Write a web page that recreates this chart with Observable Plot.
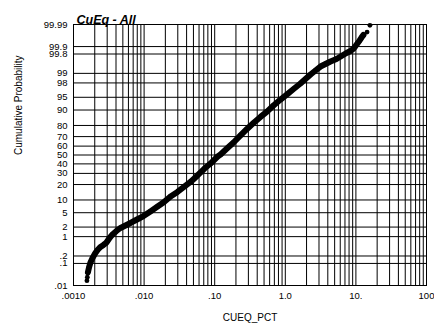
<!DOCTYPE html>
<html>
<head>
<meta charset="utf-8">
<script src="https://cdn.jsdelivr.net/npm/d3@7"></script>
<script src="https://cdn.jsdelivr.net/npm/@observablehq/plot@0.6"></script>
<style>
  html, body { margin: 0; padding: 0; background: white; }
</style>
</head>
<body>
<div id="chart"></div>
<script>
// ---- data ----
const cueqPct = [0.00155,0.00157,0.00160,0.00166,0.00174,0.00186,0.00202,0.00219,0.00241,0.00266,
  0.00293,0.00324,0.00357,0.00406,0.00463,0.00545,0.00642,0.00793,0.00981,0.0123,
  0.0155,0.0188,0.0237,0.0297,0.0367,0.0454,0.0561,0.0717,0.0872,0.110,
  0.121,0.149,0.185,0.232,0.287,0.354,0.445,0.551,0.681,0.855,
  1.06,1.31,1.64,1.93,2.28,2.68,3.15,3.71,4.37,5.31,
  6.25,7.36,8.39,9.25,9.87,10.5,11.3,12.0,12.8,14.4,15.8];
const cumProb = [0.017,0.025,0.041,0.068,0.11,0.167,0.25,0.34,0.44,0.52,
  0.63,0.90,1.18,1.52,1.88,2.23,2.64,3.3,4.1,5.4,
  7.1,8.8,11.9,14.6,18.1,22.1,27.5,35.0,40.4,48.3,
  50.6,57.3,63.9,71.1,77.1,81.9,86.1,89.2,92.1,94.3,
  95.8,97.0,97.92,98.48,98.91,99.20,99.415,99.524,99.614,99.688,
  99.760,99.817,99.848,99.879,99.905,99.926,99.945,99.959,99.969,99.977,99.989];

const xTickValues = [0.001, 0.01, 0.1, 1, 10, 100];
const xTickLabels = [".0010", ".010", ".10", "1.0", "10.", "100"];
const yTickValues = [0.01, 0.1, 0.2, 1, 2, 5, 10, 20, 30, 40, 50, 60, 70, 80, 90, 95, 98, 99, 99.8, 99.9, 99.99];
const yTickLabels = [".01", ".1", ".2", "1", "2", "5", "10", "20", "30", "40", "50", "60", "70", "80", "90", "95", "98", "99", "99.8", "99.9", "99.99"];
const minorMultipliers = [1, 2, 3, 4, 5, 6, 7, 8, 9];
const decades = [0.001, 0.01, 0.1, 1, 10];

const title = "CuEq - All";
const xLabel = "CUEQ_PCT";
const yLabel = "Cumulative Probability";

// ---- probability (normal quantile) transform ----
function probit(pct) {
  const p = pct / 100;
  const a=[-3.969683028665376e+01,2.209460984245205e+02,-2.759285104469687e+02,1.383577518672690e+02,-3.066479806614716e+01,2.506628277459239e+00];
  const b=[-5.447609879822406e+01,1.615858368580409e+02,-1.556989798598866e+02,6.680131188771972e+01,-1.328068155288572e+01];
  const c=[-7.784894002430293e-03,-3.223964580411365e-01,-2.400758277161838e+00,-2.549732539343734e+00,4.374664141464968e+00,2.938163982698783e+00];
  const d=[7.784695709041462e-03,3.224671290700398e-01,2.445134137142996e+00,3.754408661907416e+00];
  const pl = 0.02425, ph = 1 - pl;
  let q, r;
  if (p < pl) { q = Math.sqrt(-2*Math.log(p)); return (((((c[0]*q+c[1])*q+c[2])*q+c[3])*q+c[4])*q+c[5])/((((d[0]*q+d[1])*q+d[2])*q+d[3])*q+1); }
  if (p <= ph) { q = p - 0.5; r = q*q; return (((((a[0]*r+a[1])*r+a[2])*r+a[3])*r+a[4])*r+a[5])*q/(((((b[0]*r+b[1])*r+b[2])*r+b[3])*r+b[4])*r+1); }
  q = Math.sqrt(-2*Math.log(1-p)); return -(((((c[0]*q+c[1])*q+c[2])*q+c[3])*q+c[4])*q+c[5])/((((d[0]*q+d[1])*q+d[2])*q+d[3])*q+1);
}

const points = cueqPct.map((v, i) => ({v, z: probit(cumProb[i])}));
const linePts = points.slice(2, points.length - 2);

const yTickZ = yTickValues.map(probit);
const yLabelMap = new Map(yTickZ.map((z, i) => [z, yTickLabels[i]]));
const xLabelMap = new Map(xTickValues.map((v, i) => [v, xTickLabels[i]]));
const xGrid = decades.flatMap(dd => minorMultipliers.map(m => m * dd)).concat([100]);

const font = "'Liberation Sans', Arial, Helvetica, sans-serif";

const chart = Plot.plot({
  width: 434,
  height: 328,
  marginLeft: 73,
  marginRight: 8,
  marginTop: 24,
  marginBottom: 43,
  style: {fontFamily: font, fontSize: "9.5px", background: "white", color: "black"},
  x: {type: "log", domain: [0.001, 100]},
  y: {type: "linear", domain: [probit(0.01), probit(99.99)]},
  marks: [
    Plot.ruleX(xGrid, {stroke: "black", strokeWidth: 1}),
    Plot.ruleY(yTickZ, {stroke: "black", strokeWidth: 1}),
    Plot.frame({stroke: "black", strokeWidth: 1}),
    Plot.line(linePts, {x: "v", y: "z", stroke: "black", strokeWidth: 6, strokeLinejoin: "round", strokeLinecap: "round"}),
    Plot.dot(points, {x: "v", y: "z", r: 2.4, fill: "black", stroke: "none"}),
    Plot.axisX(xTickValues, {anchor: "bottom", tickSize: 0, tickPadding: 7, label: null, tickFormat: d => xLabelMap.get(d), fontSize: 9.5}),
    Plot.axisY(yTickZ, {anchor: "left", tickSize: 0, tickPadding: 6, label: null, tickFormat: d => yLabelMap.get(d), fontSize: 9.5}),
    Plot.text([title], {frameAnchor: "top-left", textAnchor: "start", dx: 3, dy: -9, fontWeight: "bold", fontStyle: "italic", fontSize: 12.5}),
    Plot.text([xLabel], {frameAnchor: "bottom", dy: 35, fontSize: 10}),
    Plot.text([yLabel], {frameAnchor: "left", rotate: -90, dx: -55, fontSize: 10})
  ]
});
document.getElementById("chart").appendChild(chart);
</script>
</body>
</html>
